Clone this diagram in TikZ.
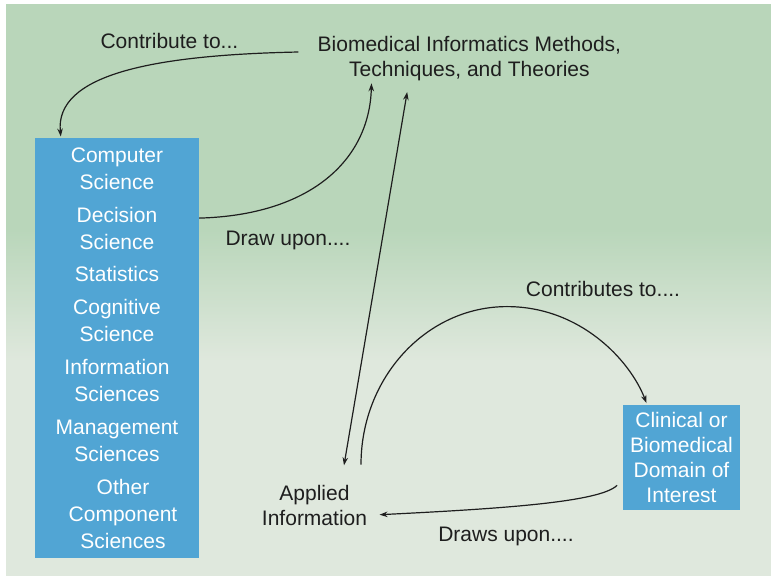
\documentclass[tikz,border=0pt]{standalone}
\usepackage{fontspec}
\setmainfont{Liberation Sans}
\usepackage{xcolor}
\usetikzlibrary{arrows.meta}

\definecolor{bgtop}{HTML}{B9D6BA}
\definecolor{bglow}{HTML}{DFE8DD}
\definecolor{boxblue}{HTML}{51A5D4}
\definecolor{ink}{HTML}{1E1E1E}

\tikzset{
	words/.style = {inner sep=0pt, text=ink, align=center, font=\fontsize{21}{24.3}\selectfont},
	field/.style = {fill=boxblue, text=white, inner sep=0pt, align=center},
	link/.style = {line width=1.2pt, draw=ink, -{Stealth[length=8pt, width=5.5pt]}},
	twoway/.style = {link, {Stealth[length=8pt, width=5.5pt]}-{Stealth[length=8pt, width=5.5pt]}}
}

\begin{document}
\begin{tikzpicture}[x = 1pt, y = -1pt]
	\useasboundingbox (0,0) rectangle (771,576);
	\fill [bgtop] (6,4) rectangle (771,231);
	\shade [top color=bgtop, bottom color=bglow] (6,230) rectangle (771,361);
	\fill [bglow] (6,360) rectangle (771,576);

	\node [words] (methods) at (469.4,58.6) {Biomedical Informatics Methods,\\ Techniques, and Theories};
	\node [words, anchor=base] (contribute) at (169.4,48.3) {Contribute to...};
	\node [field, minimum width=164pt, minimum height=420pt, font=\fontsize{21}{27}\selectfont] (sciences) at (117,348)
		{Computer\\ Science\\[5.8pt] Decision\\ Science\\[5.8pt] Statistics\\[5.8pt] Cognitive\\ Science\\[5.8pt]
		Information\\ Sciences\\[5.8pt] Management\\ Sciences\\[5.8pt]
		\hspace*{12pt}Other\\ \hspace*{12pt}Component\\ \hspace*{12pt}Sciences};
	\node [words, anchor=base] (drawupon) at (288,245.7) {Draw upon....};
	\node [words, anchor=base] (contributes) at (603,296.7) {Contributes to....};
	\node [words, font=\fontsize{21}{25}\selectfont] (applied) at (314.5,505) {Applied\\ Information};
	\node [field, minimum width=117pt, minimum height=105pt, font=\fontsize{21}{25.3}\selectfont] (domain) at (681.5,457.5)
		{Clinical or\\ Biomedical\\ Domain of\\ Interest};
	\node [words, anchor=base] (drawsupon) at (506,541) {Draws upon....};

	\draw [link] ([xshift=-19pt, yshift=6.6pt]methods.west) .. controls +(-147,3) and +(-6,-61.7) .. ([xshift=26pt, yshift=1.3pt]sciences.north west);
	\draw [link] ([yshift=-80.3pt]sciences.north east) .. controls +(111,-3) and +(-2,77) .. ([xshift=54pt, yshift=-2.6pt]methods.south west);
	\draw [twoway] ([xshift=29.5pt, yshift=19.3pt]applied.north) -- ([xshift=89.7pt, yshift=-11.3pt]methods.south west);
	\draw [link] ([xshift=46.5pt, yshift=20pt]applied.north) .. controls +(0,-87) and +(-80.6,0) .. ++(146,-158)
		.. controls +(73,0) and +(-16.7,-43.3) .. ([xshift=23.7pt, yshift=1.7pt]domain.north west);
	\draw [link] ([xshift=-5.7pt, yshift=-27.8pt]domain.west) .. controls +(-17,17) and +(121,-6) .. ([xshift=12.3pt, yshift=10.7pt]applied.south east);
\end{tikzpicture}
\end{document}
